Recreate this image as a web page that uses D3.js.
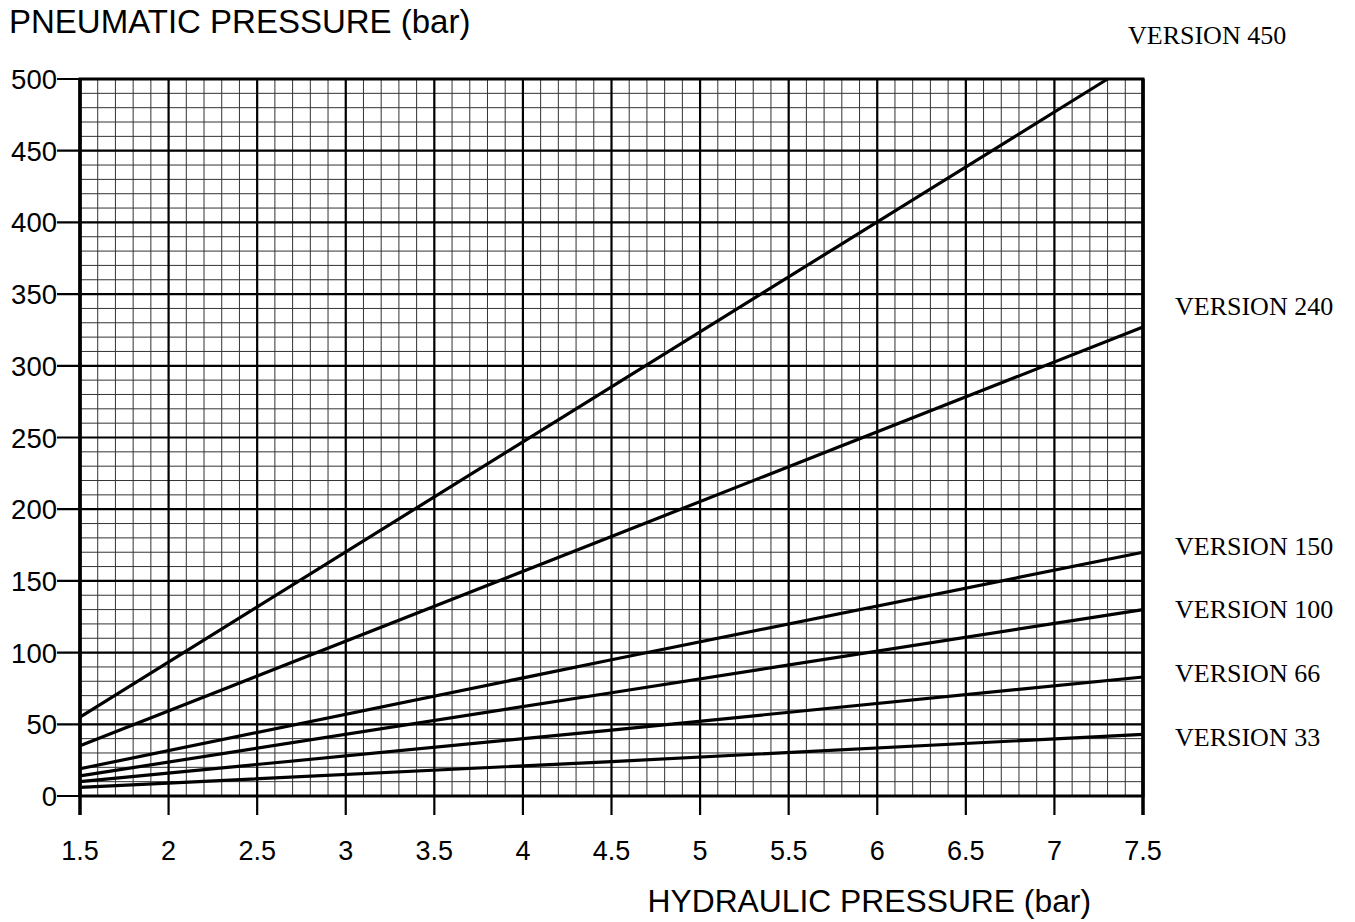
<!DOCTYPE html>
<html>
<head>
<meta charset="utf-8">
<script src="https://cdn.jsdelivr.net/npm/d3@7"></script>
<style>
body { margin: 0; background: #fff; }
svg { display: block; }
</style>
</head>
<body>
<script>
// hydraulic pressure (bar) at the start and end of every line
var series = ["VERSION 450", "VERSION 240", "VERSION 150", "VERSION 100", "VERSION 66", "VERSION 33"];
var hydraulic = [
	[1.5, 4, 7.3],
	[1.5, 4.5, 7.5],
	[1.5, 4.5, 7.5],
	[1.5, 4.5, 7.5],
	[1.5, 4.5, 7.5],
	[1.5, 4.5, 7.5]
];
// pneumatic pressure (bar)
var pneumatic = [
	[55, 247, 500],
	[35, 181, 327],
	[19, 95, 170],
	[14, 72, 130],
	[10, 46, 83],
	[6, 24, 43]
];
var xTicks = [1.5, 2, 2.5, 3, 3.5, 4, 4.5, 5, 5.5, 6, 6.5, 7, 7.5];
var yTicks = [0, 50, 100, 150, 200, 250, 300, 350, 400, 450, 500];

function plotGraph(){
	var width = 1355, height = 922;
	var left = 80, right = 1143, top = 79, bottom = 796;

	var svg = d3.select("body").append("svg")
		.attr("width", width)
		.attr("height", height);

	var x = d3.scaleLinear().domain([1.5, 7.5]).range([left, right]);
	var y = d3.scaleLinear().domain([0, 500]).range([bottom, top]);

	var grid = svg.append("g");

	// minor grid, every 0.1 bar and every 10 bar
	var xMinor = d3.range(15, 76).map(function(d){ return d / 10; });
	var yMinor = d3.range(0, 51).map(function(d){ return d * 10; });

	grid.selectAll("line.xminor").data(xMinor).enter().append("line")
		.attr("class", "xminor")
		.attr("x1", function(d){ return x(d); })
		.attr("x2", function(d){ return x(d); })
		.attr("y1", top).attr("y2", bottom)
		.attr("stroke", "#333").attr("stroke-width", 1);

	grid.selectAll("line.yminor").data(yMinor).enter().append("line")
		.attr("class", "yminor")
		.attr("y1", function(d){ return y(d); })
		.attr("y2", function(d){ return y(d); })
		.attr("x1", left).attr("x2", right)
		.attr("stroke", "#333").attr("stroke-width", 1);

	// major grid lines, extended past the frame as ticks
	grid.selectAll("line.xmajor").data(xTicks).enter().append("line")
		.attr("class", "xmajor")
		.attr("x1", function(d){ return x(d); })
		.attr("x2", function(d){ return x(d); })
		.attr("y1", top).attr("y2", bottom + 19)
		.attr("stroke", "#000").attr("stroke-width", 2.2);

	grid.selectAll("line.ymajor").data(yTicks).enter().append("line")
		.attr("class", "ymajor")
		.attr("y1", function(d){ return y(d); })
		.attr("y2", function(d){ return y(d); })
		.attr("x1", left - 23).attr("x2", right)
		.attr("stroke", "#000").attr("stroke-width", 2.2);

	// frame
	svg.append("rect")
		.attr("x", left).attr("y", top)
		.attr("width", right - left).attr("height", bottom - top)
		.attr("fill", "none").attr("stroke", "#000").attr("stroke-width", 3);
	svg.append("line")
		.attr("x1", left).attr("x2", left).attr("y1", top).attr("y2", bottom + 19)
		.attr("stroke", "#000").attr("stroke-width", 3.5);
	svg.append("line")
		.attr("x1", right).attr("x2", right).attr("y1", top).attr("y2", bottom + 19)
		.attr("stroke", "#000").attr("stroke-width", 3.5);

	// tick labels
	svg.selectAll("text.xt").data(xTicks).enter().append("text")
		.attr("class", "xt")
		.attr("x", function(d){ return x(d); })
		.attr("y", 860)
		.attr("text-anchor", "middle")
		.attr("font-family", "Liberation Sans, Arial, sans-serif")
		.attr("font-size", 27)
		.text(function(d){ return d; });

	svg.selectAll("text.yt").data(yTicks).enter().append("text")
		.attr("class", "yt")
		.attr("x", 57)
		.attr("y", function(d){ return y(d) + 10; })
		.attr("text-anchor", "end")
		.attr("font-family", "Liberation Sans, Arial, sans-serif")
		.attr("font-size", 27.5)
		.text(function(d){ return d; });

	// axis titles
	svg.append("text")
		.attr("x", 9).attr("y", 33)
		.attr("font-family", "Liberation Sans, Arial, sans-serif")
		.attr("font-size", 33)
		.text("PNEUMATIC PRESSURE (bar)");

	svg.append("text")
		.attr("x", 1091).attr("y", 912)
		.attr("text-anchor", "end")
		.attr("font-family", "Liberation Sans, Arial, sans-serif")
		.attr("font-size", 31.8)
		.text("HYDRAULIC PRESSURE (bar)");

	// lines
	var line = d3.line()
		.x(function(d){ return x(d[0]); })
		.y(function(d){ return y(d[1]); });

	series.forEach(function(name, i){
		var pts = hydraulic[i].map(function(h, j){ return [h, pneumatic[i][j]]; });
		svg.append("path")
			.datum(pts)
			.attr("d", line)
			.attr("fill", "none")
			.attr("stroke", "#000")
			.attr("stroke-width", 3.2);
	});

	// series labels: 450 sits above the plot, the rest beside the line ends
	var labelShift = [0, -21, -6, -1, -4, 3];
	series.forEach(function(name, i){
		var last = pneumatic[i][pneumatic[i].length - 1];
		var lx = i === 0 ? 1128 : 1175;
		var ly = i === 0 ? 35 : y(last) + labelShift[i];
		svg.append("text")
			.attr("x", lx)
			.attr("y", ly + 9)
			.attr("font-family", "Liberation Serif, Times New Roman, serif")
			.attr("font-size", 26)
			.text(name);
	});
}

plotGraph();
</script>
</body>
</html>
